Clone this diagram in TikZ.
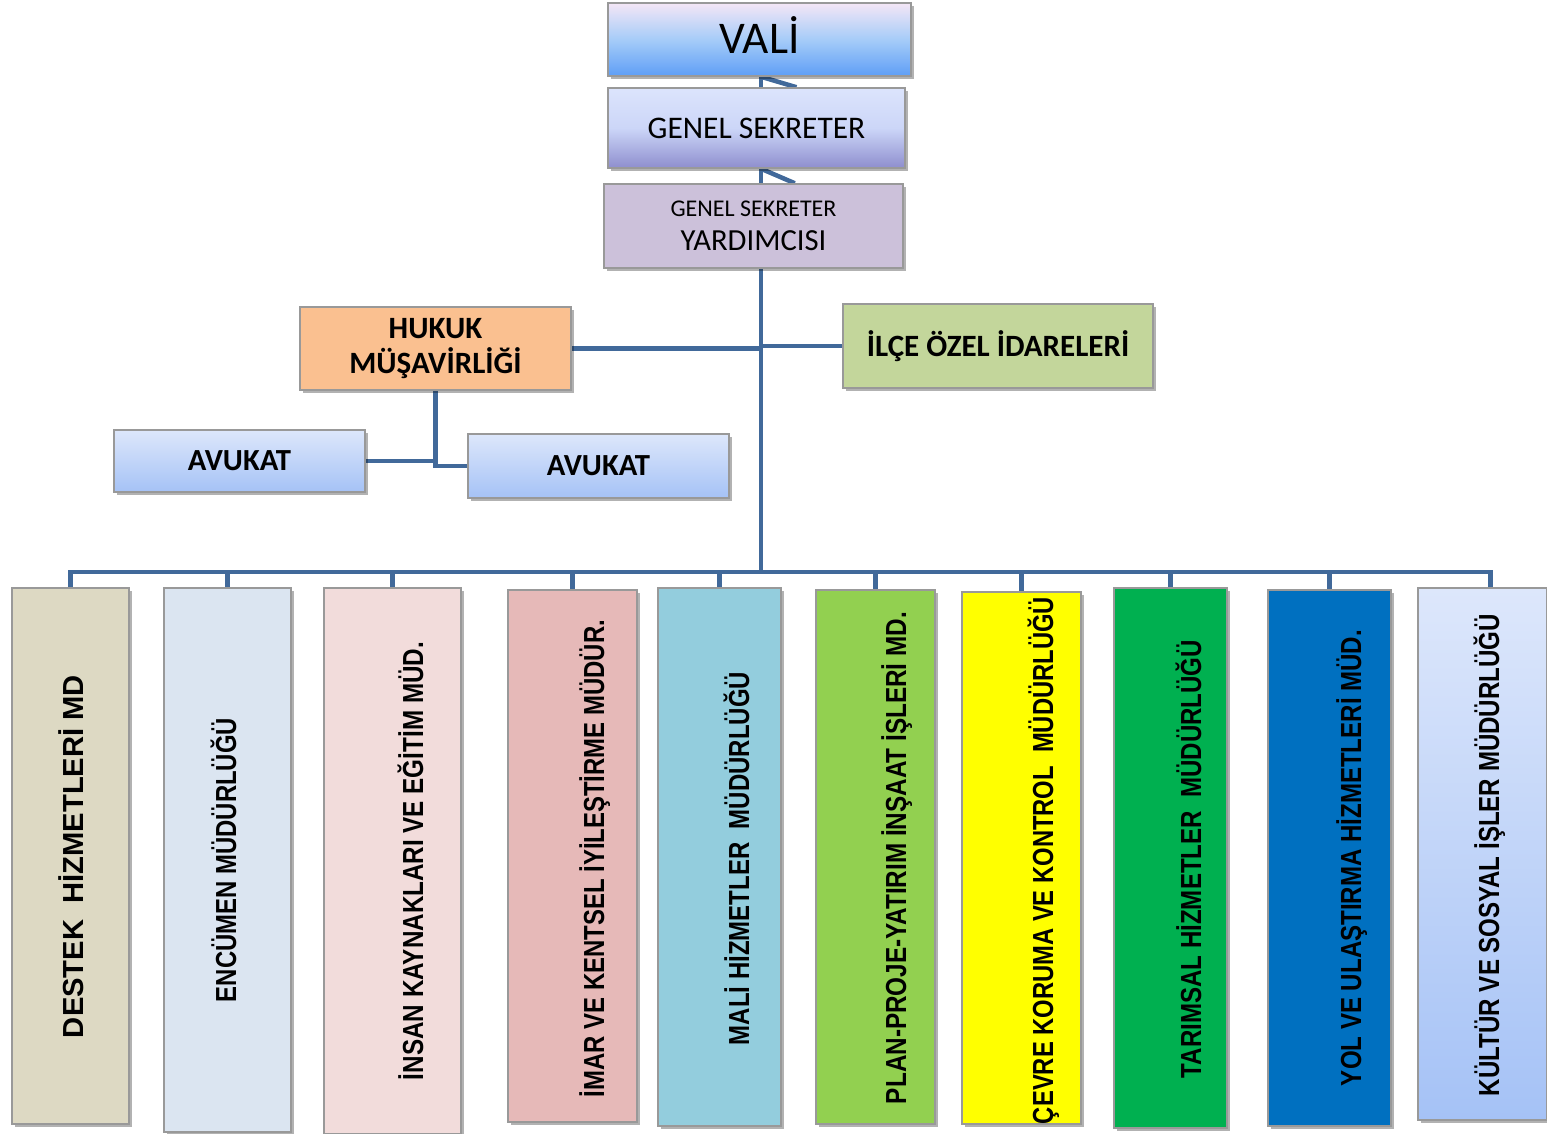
\documentclass[tikz,border=0pt]{standalone}
\usepackage{fontspec}
\usepackage{graphicx}
\setmainfont{Carlito}
\newfontfamily\arialf{Liberation Sans}
\usetikzlibrary{shadows}
\pgfdeclarelayer{bg}
\pgfsetlayers{bg,main}
\newlength\pxu
\setlength\pxu{0.75pt}
\definecolor{conncol}{HTML}{41699A}
\definecolor{c1}{HTML}{DDD9C3}
\definecolor{c2}{HTML}{DBE5F1}
\definecolor{c3}{HTML}{F2DCDB}
\definecolor{c4}{HTML}{E6B9B8}
\definecolor{c5}{HTML}{93CDDD}
\definecolor{c6}{HTML}{92D050}
\definecolor{c7}{HTML}{FFFF00}
\definecolor{c8}{HTML}{00B050}
\definecolor{c9}{HTML}{0070C0}
\definecolor{orangec}{HTML}{FAC090}
\definecolor{greenc}{HTML}{C3D69B}
\definecolor{lavc}{HTML}{CCC1DA}
\definecolor{valitop}{HTML}{F4E6F6}
\definecolor{valimid}{HTML}{A6CCF8}
\definecolor{valibot}{HTML}{5E9EF6}
\definecolor{gstop}{HTML}{DCE4FC}
\definecolor{gsmid}{HTML}{CCD6F8}
\definecolor{gsbot}{HTML}{8E8ECE}
\definecolor{avtop}{HTML}{DDE7FB}
\definecolor{avbot}{HTML}{A5C2F6}
\tikzset{
  boxbase/.style={draw=black!40, line width=1.1pt, inner sep=0pt, align=center,
    drop shadow={shadow xshift=2pt, shadow yshift=-2pt, opacity=0.3, fill=black}},
  conn/.style={draw=conncol, line width=3.4pt},
  bluegrad/.style={top color=avtop, bottom color=avbot},
}
% box helper: name, x1, y1, x2, y2, style, text
\newcommand\pbox[7]{%
  \pgfmathsetmacro\cx{(#2+#4)/2}\pgfmathsetmacro\cy{(#3+#5)/2}%
  \pgfmathsetmacro\ww{(#4-#2)*0.75}\pgfmathsetmacro\hh{(#5-#3)*0.75}%
  \node[boxbase, #6, minimum width=\ww pt, minimum height=\hh pt] (#1) at (\cx,\cy) {#7};}
% vertical text: name, baseline x, centre y, length px, text
\newcommand\vtext[5]{%
  \node[rotate=90, anchor=base, inner sep=0pt] (#1) at (#2,#3)
   {\resizebox{#4\pxu}{\height}{\arialf\bfseries\fontsize{21.75pt}{24pt}\selectfont #5}};}
\begin{document}
\begin{tikzpicture}[x=0.75pt, y=-0.75pt]
\useasboundingbox (0,0) rectangle (1547,1134);
% top chain
\pbox{vali}{608}{3}{911}{76}{top color=valitop, bottom color=valibot, middle color=valimid}{\raisebox{6pt}{\fontsize{34pt}{38pt}\selectfont VALİ}}
\pbox{gs}{608}{88}{905}{168}{top color=gstop, bottom color=gsbot, middle color=gsmid}{\fontsize{23.6pt}{26pt}\selectfont GENEL SEKRETER}
\pbox{yard}{604}{184}{903}{268}{fill=lavc}{{\fontsize{18pt}{20pt}\selectfont GENEL SEKRETER}\\[9pt]{\fontsize{23pt}{25pt}\selectfont YARDIMCISI}}
\pbox{hukuk}{300}{307}{571}{390}{fill=orangec, font=\bfseries\fontsize{23.25pt}{26pt}\selectfont}{\raisebox{-4pt}{HUKUK}\\\raisebox{-4pt}{MÜŞAVİRLİĞİ}}
\pbox{ilce}{843}{304}{1153}{388}{fill=greenc, font=\bfseries\fontsize{23.25pt}{26pt}\selectfont}{İLÇE ÖZEL İDARELERİ}
\pbox{av1}{114}{430}{365}{492}{bluegrad, font=\bfseries\fontsize{23pt}{26pt}\selectfont}{AVUKAT}
\pbox{av2}{468}{434}{729}{498}{bluegrad, font=\bfseries\fontsize{23pt}{26pt}\selectfont}{AVUKAT}
% bottom boxes
\pbox{b1}{12}{588}{129}{1124}{fill=c1}{}
\pbox{b2}{164}{588}{291}{1132}{fill=c2}{}
\pbox{b3}{324}{588}{461}{1134}{fill=c3}{}
\pbox{b4}{508}{590}{637}{1122}{fill=c4}{}
\pbox{b5}{658}{588}{781}{1126}{fill=c5}{}
\pbox{b6}{816}{590}{935}{1124}{fill=c6}{}
\pbox{b7}{962}{592}{1081}{1124}{fill=c7}{}
\pbox{b8}{1114}{588}{1227}{1128}{fill=c8}{}
\pbox{b9}{1268}{590}{1391}{1126}{fill=c9}{}
\pbox{b10}{1418}{588}{1547}{1120}{bluegrad}{}
% vertical texts
\vtext{t1}{83}{856.5}{363}{DESTEK\ \ HİZMETLERİ MD}
\vtext{t2}{236}{860}{284}{ENCÜMEN MÜDÜRLÜĞÜ}
\vtext{t3}{423}{861}{438}{İNSAN KAYNAKLARI VE EĞİTİM MÜD.}
\vtext{t4}{604}{858.5}{477}{İMAR VE KENTSEL İYİLEŞTİRME MÜDÜR.}
\vtext{t5}{749}{858.5}{373}{MALİ HİZMETLER\ \ MÜDÜRLÜĞÜ}
\vtext{t6}{906}{858}{492}{PLAN-PROJE-YATIRIM İNŞAAT İŞLERİ MD.}
\vtext{t7}{1053}{860.5}{527}{ÇEVRE KORUMA VE KONTROL\ \ MÜDÜRLÜĞÜ}
\vtext{t8}{1201}{859}{438}{TARIMSAL HİZMETLER\ \ MÜDÜRLÜĞÜ}
\vtext{t9}{1361}{858}{456}{YOL VE ULAŞTIRMA HİZMETLERİ MÜD.}
\vtext{t10}{1499}{855}{482}{KÜLTÜR VE SOSYAL İŞLER MÜDÜRLÜĞÜ}
% connectors
\coordinate (trunk) at (761,572);
\begin{pgfonlayer}{bg}
\draw[conn] (vali.south -| trunk) -- (gs.north -| trunk);
\draw[conn] (vali.south -| trunk) -- ([xshift=30pt]gs.north);
\draw[conn] (gs.south -| trunk) -- (yard.north -| trunk);
\draw[conn] (gs.south -| trunk) -- ([xshift=31pt]yard.north);
\draw[conn] (yard.south -| trunk) -- (trunk);
\draw[conn] (hukuk.east) -- (hukuk.east -| trunk);
\draw[conn] (ilce.west) -- (ilce.west -| trunk);
\draw[conn] (hukuk.south) |- (av1.east);
\draw[conn] (hukuk.south) |- (av2.west);
\foreach \b in {b1,b2,b3,b4,b5,b6,b7,b8,b9}
  \draw[conn] (trunk) -| (\b.north);
\draw[conn] (trunk) -| ([xshift=6pt]b10.north);
\end{pgfonlayer}
\end{tikzpicture}
\end{document}
